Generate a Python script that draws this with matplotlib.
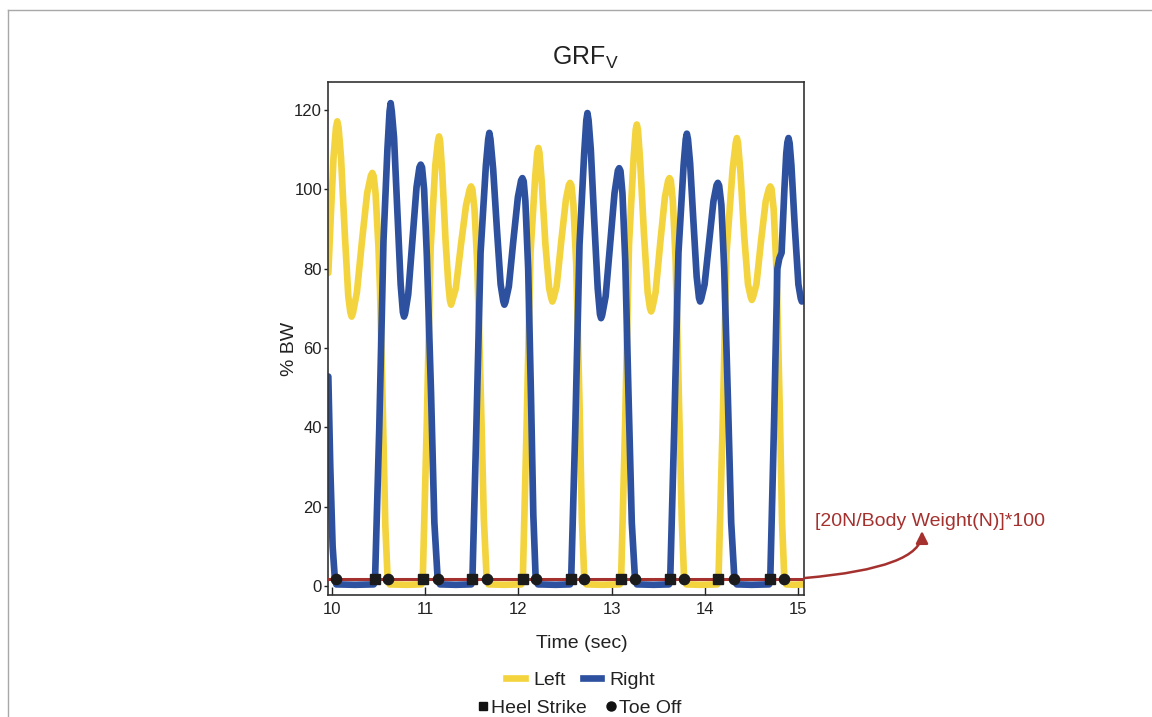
import matplotlib.pyplot as plt
from matplotlib.lines import Line2D

# vertical ground reaction force, % body weight
leftTime = [9.964, 9.99, 10.02, 10.046, 10.06, 10.074, 10.10, 10.14, 10.178, 10.2, 10.214, 10.228, 10.27, 10.325, 10.38, 10.42, 10.435, 10.45, 10.47, 10.50, 10.518, 10.55, 10.575, 10.60, 10.62,
            10.80, 10.96,
            10.975, 11.02, 11.06, 11.11, 11.138, 11.15, 11.162, 11.185, 11.22, 11.25, 11.267, 11.279, 11.291, 11.33, 11.385, 11.44, 11.479, 11.493, 11.507, 11.53, 11.56, 11.60, 11.63, 11.661, 11.68,
            11.85, 12.03,
            12.047, 12.09, 12.13, 12.18, 12.202, 12.214, 12.226, 12.25, 12.29, 12.33, 12.352, 12.364, 12.376, 12.41, 12.46, 12.51, 12.54, 12.554, 12.568, 12.59, 12.62, 12.655, 12.68, 12.707, 12.73,
            12.90, 13.085,
            13.10, 13.145, 13.185, 13.235, 13.257, 13.269, 13.281, 13.305, 13.345, 13.385, 13.41, 13.422, 13.434, 13.47, 13.52, 13.57, 13.605, 13.619, 13.633, 13.655, 13.685, 13.72, 13.75, 13.776, 13.80,
            13.95, 14.13,
            14.143, 14.19, 14.23, 14.295, 14.329, 14.341, 14.353, 14.38, 14.42, 14.46, 14.489, 14.501, 14.513, 14.55, 14.60, 14.65, 14.684, 14.698, 14.712, 14.735, 14.765, 14.80, 14.825, 14.85, 14.87,
            14.95, 15.061]
leftBW = [78.9, 93, 108, 115.5, 117.1, 115.5, 108, 89, 73, 69, 67.9, 68.8, 74, 87, 99, 103.4, 104.1, 103.3, 99, 86, 74.6, 42, 15, 1.5, 0.4,
          0.3, 0.4,
          1.2, 42, 85, 106, 112, 113.3, 112, 104, 87, 76, 72, 70.9, 71.8, 75, 86, 96, 100, 100.7, 100, 95, 81, 46, 17, 1.5, 0.4,
          0.3, 0.4,
          1.2, 42, 84, 103, 109.2, 110.4, 109.2, 102, 86, 75, 72.6, 71.7, 72.4, 75.5, 87, 97.5, 101, 101.6, 101, 96, 81, 46, 17, 1.5, 0.4,
          0.3, 0.4,
          1.2, 42, 86, 108, 115, 116.3, 115, 107, 89, 74, 70, 69.2, 69.9, 74, 86.5, 98, 102.2, 102.8, 102.2, 97, 82, 47, 17, 1.5, 0.4,
          0.3, 0.4,
          1.2, 42, 84, 105, 111.7, 112.9, 111.7, 104, 88, 76, 72.9, 72.1, 72.7, 76, 87, 97, 100.1, 100.7, 100.1, 95, 80, 45, 16, 1.5, 0.4,
          0.3, 0.4]

rightTime = [9.964, 9.985, 10.01, 10.035, 10.05,
             10.25, 10.45,
             10.464, 10.51, 10.555, 10.597, 10.62, 10.632, 10.644, 10.668, 10.704, 10.739, 10.763, 10.775, 10.787, 10.82, 10.864, 10.909, 10.94, 10.954, 10.968, 10.99, 11.02, 11.064, 11.10, 11.136, 11.16,
             11.33, 11.495,
             11.507, 11.55, 11.595, 11.652, 11.677, 11.689, 11.701, 11.73, 11.77, 11.81, 11.838, 11.85, 11.862, 11.898, 11.946, 11.995, 12.029, 12.043, 12.057, 12.075, 12.105, 12.135, 12.16, 12.186, 12.21,
             12.40, 12.553,
             12.565, 12.61, 12.655, 12.705, 12.728, 12.74, 12.752, 12.776, 12.813, 12.85, 12.874, 12.886, 12.898, 12.935, 12.983, 13.03, 13.066, 13.08, 13.094, 13.115, 13.145, 13.18, 13.215, 13.25, 13.27,
             13.45, 13.614,
             13.626, 13.67, 13.715, 13.77, 13.793, 13.805, 13.817, 13.84, 13.875, 13.91, 13.935, 13.947, 13.959, 13.995, 14.042, 14.09, 14.123, 14.137, 14.151, 14.175, 14.205, 14.245, 14.28, 14.315, 14.34,
             14.50, 14.686,
             14.698, 14.74, 14.775, 14.795, 14.82, 14.85, 14.87, 14.882, 14.894, 14.906, 14.925, 14.96, 15.0, 15.025, 15.037, 15.061]
rightBW = [52.8, 30, 10, 1.5, 0.4,
           0.3, 0.4,
           1.2, 40, 87, 110, 119.6, 121.7, 119.6, 113, 94, 76, 69, 67.9, 68.7, 73.5, 87, 100.5, 105.5, 106.2, 105.5, 100, 83, 49, 16, 1.5, 0.4,
           0.3, 0.4,
           1.2, 40, 84, 106, 112.6, 114.2, 112.6, 105, 90, 76, 71.8, 70.9, 71.6, 75.5, 87, 98, 102.2, 102.8, 102, 97, 80, 48, 18, 1.5, 0.4,
           0.3, 0.4,
           1.2, 40, 86, 109, 117.4, 119.2, 117.4, 110, 92, 75, 68.5, 67.5, 68.3, 73, 86, 99, 104.7, 105.3, 104.6, 99, 82, 48, 16, 1.5, 0.4,
           0.3, 0.4,
           1.2, 40, 84, 106, 112.6, 114, 112.6, 106.5, 92, 78, 72.6, 71.7, 72.4, 76, 86.5, 97, 101, 101.6, 100.9, 96, 80, 47, 16, 1.5, 0.4,
           0.3, 0.4,
           1.2, 42, 80, 82.5, 84, 100, 109, 111.8, 112.9, 111.6, 106, 91, 76, 72.5, 71.7, 72]

heelStrike = [10.464, 10.975, 11.507, 12.047, 12.565, 13.10, 13.626, 14.143, 14.698]
toeOff = [10.043, 10.60, 11.136, 11.661, 12.186, 12.707, 13.25, 13.776, 14.315, 14.85]
threshold = 1.8   # 20N / body weight * 100

xTicks = [10, 11, 12, 13, 14, 15]
yTicks = [0, 20, 40, 60, 80, 100, 120]

YELLOW = '#F3D43E'
BLUE = '#2D519F'
RED = '#A5312F'
INK = '#222222'

plt.rcParams['font.family'] = ['Liberation Sans', 'DejaVu Sans']
plt.rcParams['mathtext.fontset'] = 'custom'
plt.rcParams['mathtext.rm'] = 'Liberation Sans'
plt.rcParams['mathtext.it'] = 'Liberation Sans'

fig = plt.figure(figsize=(11.52, 7.17), dpi=100)
W, H = 1152.0, 717.0
ax = fig.add_axes([0.285, 0.170, 0.413, 0.7155])

ax.plot(leftTime, leftBW, color=YELLOW, lw=4.8, solid_joinstyle='round', solid_capstyle='round', zorder=2)
ax.plot(rightTime, rightBW, color=BLUE, lw=4.8, solid_joinstyle='round', solid_capstyle='round', zorder=2)
ax.axhline(threshold, color=RED, lw=2.2, zorder=3)
ax.plot(heelStrike, [threshold] * len(heelStrike), 's', color='#1b1b1b', ms=6.8, zorder=4)
ax.plot(toeOff, [threshold] * len(toeOff), 'o', color='#1b1b1b', ms=7.4, zorder=4)

ax.set_xlim(9.964, 15.061)
ax.set_ylim(-2.3, 127)
ax.set_xticks(xTicks)
ax.set_yticks(yTicks)
ax.tick_params(axis='x', direction='in', length=6, width=1, pad=5, labelsize=12, colors=INK)
ax.tick_params(axis='y', direction='out', length=3, width=1, pad=1.5, labelsize=12, colors=INK)
for s in ax.spines.values():
    s.set_color('#333333')
    s.set_linewidth(1.2)

ax.set_xlabel('Time (sec)', fontsize=14, color=INK)
ax.xaxis.set_label_coords(0.532, -0.078)
ax.set_ylabel('% BW', fontsize=14, color=INK)
ax.yaxis.set_label_coords(-0.064, 0.48)
ax.text(0.54, 1.033, 'GRF$_\\mathrm{V}$', transform=ax.transAxes, ha='center', va='baseline',
        fontsize=18, color=INK)

# threshold note with curved arrow
fig.text(815 / W, 1 - 522 / H, '[20N/Body Weight(N)]*100', color=RED, fontsize=14, ha='left', va='center')
ax.annotate('', xy=(922 / W, 1 - 531 / H), xycoords='figure fraction',
            xytext=(805 / W, 1 - 578 / H), textcoords='figure fraction',
            arrowprops=dict(arrowstyle='-|>', color=RED, lw=1.8, mutation_scale=18, shrinkA=0, shrinkB=0,
                            connectionstyle='angle3,angleA=5,angleB=90'))

fig.legend(handles=[Line2D([], [], color=YELLOW, lw=4.8), Line2D([], [], color=BLUE, lw=4.8)],
           labels=['Left', 'Right'], ncol=2, loc='center', bbox_to_anchor=(581 / W, 1 - 680 / H),
           frameon=False, fontsize=14, handlelength=0.95, handletextpad=0.45, columnspacing=0.85,
           borderpad=0, labelcolor=INK)
fig.legend(handles=[Line2D([], [], marker='s', ls='none', color='#111111', ms=6),
                    Line2D([], [], marker='o', ls='none', color='#111111', ms=6.5)],
           labels=['Heel Strike', 'Toe Off'], ncol=2, loc='center', bbox_to_anchor=(580 / W, 1 - 708 / H),
           frameon=False, fontsize=14, handlelength=0.5, handletextpad=0.15, columnspacing=1.0,
           borderpad=0, labelcolor=INK)

# grey page border at top and left
fig.add_artist(Line2D([8 / W, 1], [1 - 10 / H, 1 - 10 / H], transform=fig.transFigure, color='#a8a8a8', lw=1))
fig.add_artist(Line2D([8 / W, 8 / W], [0, 1 - 10 / H], transform=fig.transFigure, color='#a8a8a8', lw=1))

fig.savefig('out.png', dpi=100)
